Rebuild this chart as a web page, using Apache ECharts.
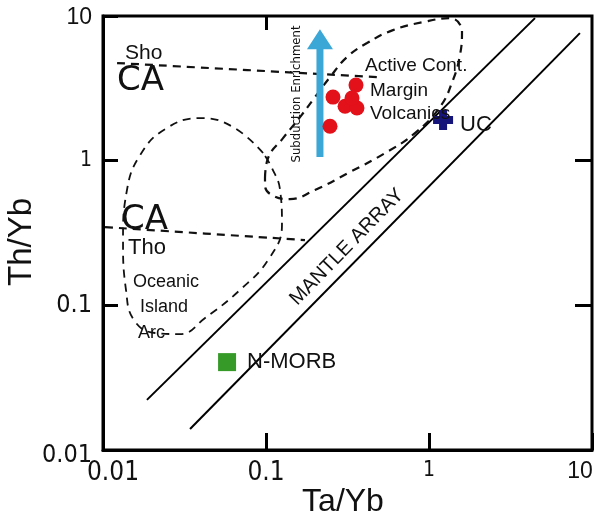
<!DOCTYPE html>
<html>
<head>
<meta charset="utf-8">
<script src="https://cdn.jsdelivr.net/npm/echarts@6/dist/echarts.min.js"></script>
<style>
html,body{margin:0;padding:0;background:#fff;}
#chart{width:596px;height:517px;}
</style>
</head>
<body>
<div id="chart"></div>
<script>
// ---- data (Ta/Yb vs Th/Yb, log-log) ----
const tickLabelsX = ['0.01', '0.1', '1', '10'];
const tickLabelsY = ['0.01', '0.1', '1', '10'];

const mantleUpper = [[0.0186, 0.0222], [4.47, 9.67]];
const mantleLower = [[0.0342, 0.01396], [8.43, 7.62]];

const shoCaDivider = [[0.0122, 4.73], [0.486, 3.78]];
const caThoDivider = [[0.01029, 0.3475], [0.1734, 0.2826]];

const oceanicIslandArcField = [
  [0.0959, 1.13], [0.0627, 1.71], [0.0394, 1.97], [0.0240, 1.65], [0.01687, 1.09],
  [0.01403, 0.627], [0.01327, 0.2825], [0.01384, 0.1276], [0.01549, 0.0791],
  [0.02084, 0.0644], [0.0297, 0.0633], [0.0423, 0.0817], [0.0692, 0.1276],
  [0.1029, 0.2056], [0.1253, 0.359], [0.122, 0.627], [0.1088, 0.889], [0.0959, 1.13]
];

const activeMarginField = [
  [0.0986, 0.759], [0.1029, 1.042], [0.1272, 1.432], [0.1617, 2.00], [0.1998, 2.75],
  [0.247, 3.78], [0.314, 5.20], [0.4166, 6.50], [0.601, 7.99], [0.918, 9.07],
  [1.345, 9.67], [1.594, 7.74], [1.549, 5.37], [1.403, 3.61], [1.168, 2.35],
  [0.820, 1.552], [0.537, 1.128], [0.327, 0.834], [0.1998, 0.627], [0.140, 0.543],
  [0.1088, 0.578], [0.0986, 0.678], [0.0986, 0.759]
];

const sampleTaYb = [0.2576, 0.3565, 0.3055, 0.3615, 0.337, 0.247];
const sampleThYb = [2.75, 3.33, 2.38, 2.31, 2.71, 1.73];

const nMorb = [[0.0577, 0.0405]];
const upperCrust = [[1.22, 1.91]];

const arrowShaft = [[0.2143, 1.06], [0.2143, 6.3]];
const arrowHead = [[0.2143, 6.92]];

// ---- chart ----
const chart = echarts.init(document.getElementById('chart'), null, {renderer: 'canvas'});
const NARROW = "'Liberation Sans Narrow','DejaVu Sans Condensed','Liberation Sans',Arial,sans-serif";
const SANS = "'Liberation Sans',Arial,Helvetica,sans-serif";

function decadeIndex(v) { return Math.round(Math.log10(v)) + 2; }

const samples = sampleTaYb.map((x, i) => [x, sampleThYb[i]]);

function dashed(data, width) {
  return {
    type: 'line', data: data, symbol: 'none', smooth: 0.45, silent: true,
    lineStyle: {color: '#111', width: width || 2, type: [8, 6]}, z: 3
  };
}
function solid(data) {
  return {
    type: 'line', data: data, symbol: 'none', silent: true,
    lineStyle: {color: '#000', width: 2}, z: 3
  };
}

const option = {
  backgroundColor: '#fff',
  animation: false,
  grid: {left: 103, right: 4, top: 16, bottom: 67, show: true, borderColor: '#000', borderWidth: 3,
         containLabel: false, outerBoundsMode: 'none'},
  xAxis: [{
    type: 'log', logBase: 10, min: 0.01, max: 10, position: 'bottom',
    axisLine: {show: true, lineStyle: {color: '#000', width: 3}},
    axisTick: {show: true, inside: true, length: 17, lineStyle: {color: '#000', width: 3}},
    minorTick: {show: false}, splitLine: {show: false},
    axisLabel: {
      margin: 10, showMinLabel: true, showMaxLabel: true, color: '#111',
      formatter: function (v) {
        const i = decadeIndex(v);
        const key = ['a', 'b', 'c', 'd'][i];
        return '{' + key + '|' + tickLabelsX[i] + '}';
      },
      rich: {
        a: {fontSize: 26, fontFamily: NARROW, color: '#111', padding: [0, 0, 0, 20]},
        b: {fontSize: 26, fontFamily: NARROW, color: '#111'},
        c: {fontSize: 21, fontFamily: NARROW, color: '#111'},
        d: {fontSize: 23, fontFamily: SANS, color: '#111', padding: [0, 24, 0, 0]}
      }
    }
  }, {
    type: 'log', logBase: 10, min: 0.01, max: 10, position: 'top',
    axisLine: {show: false},
    axisTick: {show: true, inside: true, length: 14, customValues: [0.1], lineStyle: {color: '#000', width: 3}},
    axisLabel: {show: false}, splitLine: {show: false}
  }],
  yAxis: [{
    type: 'log', logBase: 10, min: 0.01, max: 10, position: 'left',
    axisLine: {show: true, lineStyle: {color: '#000', width: 3}},
    axisTick: {show: true, inside: true, length: 15, lineStyle: {color: '#000', width: 3}},
    minorTick: {show: false}, splitLine: {show: false},
    axisLabel: {
      margin: 11, showMinLabel: true, showMaxLabel: true, color: '#111',
      formatter: function (v) {
        const i = decadeIndex(v);
        const key = ['a', 'b', 'c', 'd'][i];
        return '{' + key + '|' + tickLabelsY[i] + '}';
      },
      rich: {
        a: {fontSize: 25, fontFamily: NARROW, color: '#111', padding: [10, 0, 0, 0]},
        b: {fontSize: 25, fontFamily: NARROW, color: '#111'},
        c: {fontSize: 21, fontFamily: NARROW, color: '#111'},
        d: {fontSize: 23, fontFamily: SANS, color: '#111', padding: [4, 0, 0, 0]}
      }
    }
  }, {
    type: 'log', logBase: 10, min: 0.01, max: 10, position: 'right',
    axisLine: {show: false},
    axisTick: {show: true, inside: true, length: 17, customValues: [0.1, 1], lineStyle: {color: '#000', width: 3}},
    axisLabel: {show: false}, splitLine: {show: false}
  }],
  series: [
    solid(mantleUpper),
    solid(mantleLower),
    dashed(shoCaDivider, 2.2),
    dashed(caThoDivider, 2.2),
    dashed(oceanicIslandArcField, 1.8),
    dashed(activeMarginField, 2.2),
    {
      type: 'line', data: arrowShaft, symbol: 'none', silent: true, z: 4,
      lineStyle: {color: '#3aa7d7', width: 7, cap: 'butt'}
    },
    {
      type: 'scatter', data: arrowHead, symbol: 'triangle', symbolSize: [26, 20], silent: true, z: 4,
      itemStyle: {color: '#3aa7d7', opacity: 1}
    },
    {
      type: 'scatter', data: samples, symbol: 'circle', symbolSize: 15, z: 5,
      itemStyle: {color: '#e3111a', opacity: 1}
    },
    {
      type: 'scatter', data: nMorb, symbol: 'rect', symbolSize: 18, z: 5,
      itemStyle: {color: '#369a28', opacity: 1}
    },
    {
      type: 'scatter', data: upperCrust, z: 6,
      symbol: 'path://M3,0 H7 V3 H10 V7 H7 V10 H3 V7 H0 V3 H3 Z', symbolSize: 20,
      itemStyle: {color: '#14147a', opacity: 1}
    }
  ],
  graphic: [
    {type: 'text', x: 125, y: 53, z: 10, style: {text: 'Sho', font: '21px ' + SANS, fill: '#111', textAlign: 'left', textVerticalAlign: 'middle'}},
    {type: 'text', x: 117, y: 81, z: 10, style: {text: 'CA', font: '34px ' + "'DejaVu Sans',sans-serif", fill: '#111', textAlign: 'left', textVerticalAlign: 'middle'}},
    {type: 'text', x: 121, y: 220, z: 10, style: {text: 'CA', font: '34px ' + "'DejaVu Sans',sans-serif", fill: '#111', textAlign: 'left', textVerticalAlign: 'middle'}},
    {type: 'text', x: 128, y: 248, z: 10, style: {text: 'Tho', font: '22px ' + SANS, fill: '#111', textAlign: 'left', textVerticalAlign: 'middle'}},
    {type: 'text', x: 133, y: 282, z: 10, style: {text: 'Oceanic', font: '18px ' + SANS, fill: '#111', textAlign: 'left', textVerticalAlign: 'middle'}},
    {type: 'text', x: 140, y: 307, z: 10, style: {text: 'Island', font: '18px ' + SANS, fill: '#111', textAlign: 'left', textVerticalAlign: 'middle'}},
    {type: 'text', x: 138, y: 333, z: 10, style: {text: 'Arc', font: '18px ' + SANS, fill: '#111', textAlign: 'left', textVerticalAlign: 'middle'}},
    {type: 'text', x: 365, y: 66, z: 10, style: {text: 'Active Cont.', font: '19px ' + SANS, fill: '#111', textAlign: 'left', textVerticalAlign: 'middle'}},
    {type: 'text', x: 370, y: 91, z: 10, style: {text: 'Margin', font: '19px ' + SANS, fill: '#111', textAlign: 'left', textVerticalAlign: 'middle'}},
    {type: 'text', x: 370, y: 114, z: 10, style: {text: 'Volcanics', font: '19px ' + SANS, fill: '#111', textAlign: 'left', textVerticalAlign: 'middle'}},
    {type: 'text', x: 460, y: 125, z: 10, style: {text: 'UC', font: '22px ' + SANS, fill: '#111', textAlign: 'left', textVerticalAlign: 'middle'}},
    {type: 'text', x: 247, y: 362, z: 10, style: {text: 'N-MORB', font: '22px ' + SANS, fill: '#111', textAlign: 'left', textVerticalAlign: 'middle'}},
    {type: 'text', x: 347, y: 247, rotation: 0.80, z: 10, style: {text: 'MANTLE ARRAY', font: '20px ' + SANS, fill: '#111', textAlign: 'center', textVerticalAlign: 'middle'}},
    {type: 'text', x: 297, y: 94, rotation: Math.PI / 2, z: 10, style: {text: 'Subduction Enrichment', font: '13px ' + NARROW, fill: '#111', textAlign: 'center', textVerticalAlign: 'middle'}},
    {type: 'text', x: 343, y: 502, z: 10, style: {text: 'Ta/Yb', font: '32px ' + SANS, fill: '#111', textAlign: 'center', textVerticalAlign: 'middle'}},
    {type: 'text', x: 22, y: 242, rotation: Math.PI / 2, z: 10, style: {text: 'Th/Yb', font: '33px ' + SANS, fill: '#111', textAlign: 'center', textVerticalAlign: 'middle'}}
  ]
};
chart.setOption(option);
</script>
</body>
</html>
